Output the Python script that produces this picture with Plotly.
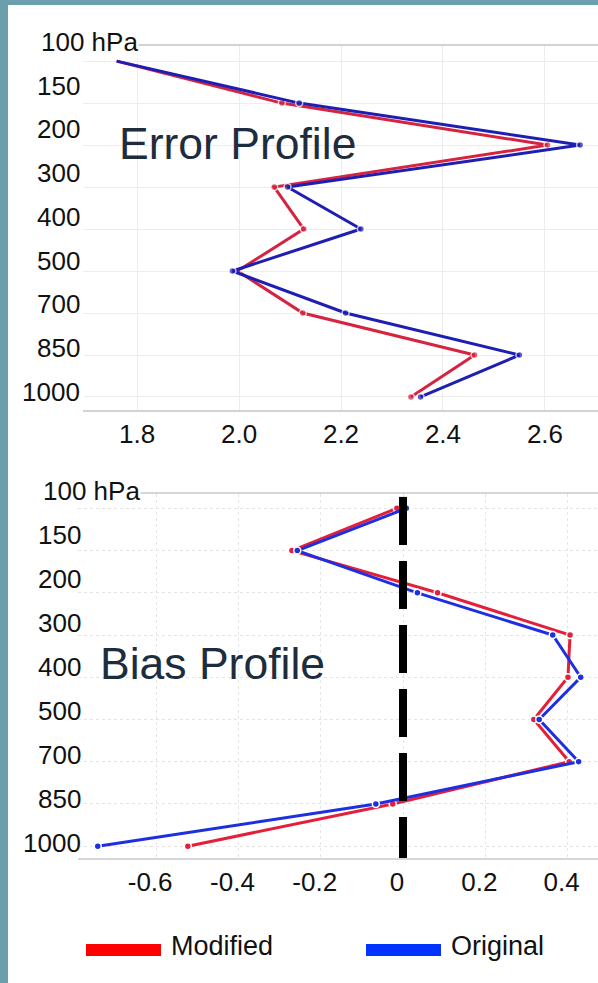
import plotly.graph_objects as go

# Pressure levels (hPa), top of the profile first
levels = ["100", "150", "200", "300", "400", "500", "700", "850", "1000"]
level_labels = ["100 hPa", "150", "200", "300", "400", "500", "700", "850", "1000"]

# Error profile values
error_modified = [1.76, 2.084, 2.605, 2.069, 2.127, 1.997, 2.125, 2.462, 2.337]
error_original = [1.76, 2.118, 2.669, 2.095, 2.239, 1.987, 2.209, 2.550, 2.356]

# Bias profile values
bias_modified = [-0.015, -0.270, 0.084, 0.406, 0.401, 0.318, 0.404, -0.025, -0.523]
bias_original = [0.008, -0.257, 0.035, 0.364, 0.432, 0.331, 0.427, -0.066, -0.742]

# Axis ticks
error_ticks = [1.8, 2.0, 2.2, 2.4, 2.6]
error_ticktext = ["1.8", "2.0", "2.2", "2.4", "2.6"]
bias_ticks = [-0.6, -0.4, -0.2, 0.0, 0.2, 0.4]
bias_ticktext = ["-0.6", "-0.4", "-0.2", "0", "0.2", "0.4"]

series_names = ["Modified", "Original"]

W, H = 598, 983
FONT = "Liberation Sans, Arial, sans-serif"
TITLE_COLOR = "#1e2d3d"

RED_TOP, BLUE_TOP = "#d6233f", "#1e1eb4"
RED_BOT, BLUE_BOT = "#e41f3a", "#1d2fe0"


def px_x(p):
    return p / W


def px_y(p):
    return 1 - p / H


fig = go.Figure()

# hide the marker of the topmost level on the error chart
err_marker_sizes = [0] + [7] * (len(levels) - 1)

for name, vals, col in [
    (series_names[0], error_modified, RED_TOP),
    (series_names[1], error_original, BLUE_TOP),
]:
    fig.add_trace(go.Scatter(
        x=vals, y=levels, mode="lines+markers", name=name,
        line=dict(color=col, width=3),
        marker=dict(color=col, size=err_marker_sizes, line=dict(color="white", width=1.5)),
        xaxis="x", yaxis="y", showlegend=False, cliponaxis=False,
    ))

for name, vals, col in [
    (series_names[0], bias_modified, RED_BOT),
    (series_names[1], bias_original, BLUE_BOT),
]:
    fig.add_trace(go.Scatter(
        x=vals, y=levels, mode="lines+markers", name=name,
        line=dict(color=col, width=3),
        marker=dict(color=col, size=7, line=dict(color="white", width=1.5)),
        xaxis="x2", yaxis="y2", showlegend=False, cliponaxis=False,
    ))

tickfont = dict(family=FONT, size=26, color="#111111")

fig.update_layout(
    width=W, height=H, autosize=False,
    margin=dict(l=0, r=0, t=0, b=0),
    paper_bgcolor="white", plot_bgcolor="white",
    xaxis=dict(
        domain=[px_x(83), 1], anchor="y", range=[1.694, 2.704],
        tickvals=error_ticks, ticktext=error_ticktext, tickfont=tickfont,
        showgrid=True, gridcolor="#ececec", gridwidth=1,
        showline=True, mirror=True, linecolor="#d2d2d2", linewidth=2,
        zeroline=False, ticks="", ticklabelstandoff=0,
    ),
    yaxis=dict(
        domain=[px_y(410), px_y(46)], anchor="x", type="category",
        categoryarray=levels, range=[8.31, -0.36],
        showticklabels=False, showgrid=True, gridcolor="#ededed", gridwidth=1,
        zeroline=False, ticks="",
    ),
    xaxis2=dict(
        domain=[px_x(78), 1], anchor="y2", range=[-0.790, 0.474],
        tickvals=bias_ticks, ticktext=bias_ticktext, tickfont=tickfont,
        showgrid=True, gridcolor="#e6e6e6", gridwidth=1, griddash="dot",
        showline=True, mirror=True, linecolor="#d6d6d6", linewidth=2,
        zeroline=False, ticks="", ticklabelstandoff=0, ticklabelshift=-6,
    ),
    yaxis2=dict(
        domain=[px_y(858), px_y(494)], anchor="x2", type="category",
        categoryarray=levels, range=[8.28, -0.34],
        showticklabels=False, showgrid=True, gridcolor="#e4e4e4", gridwidth=1,
        griddash="dot", zeroline=False, ticks="",
    ),
)

annotations = []

# pressure-level labels for both charts, evenly spaced beside the grid
# (first_px, step_px, right edge, left edge of the "hPa" label)
for first_px, step_px, right_px, left_px in [
    (42, 43.75, 82, 40),
    (490.5, 44.0, 83, 42),
]:
    for i, lab in enumerate(level_labels):
        ypos = px_y(first_px + step_px * i)
        if i == 0:
            annotations.append(dict(
                text=lab, xref="paper", yref="paper", x=px_x(left_px), y=ypos,
                xanchor="left", yanchor="middle", showarrow=False,
                font=dict(family=FONT, size=26, color="#111111"),
                bgcolor="white", borderpad=0,
            ))
        else:
            annotations.append(dict(
                text=lab, xref="paper", yref="paper", x=px_x(right_px), y=ypos,
                xanchor="right", yanchor="middle", showarrow=False,
                font=dict(family=FONT, size=26, color="#111111"),
            ))

# chart titles inside the plot areas
annotations.append(dict(
    text="Error Profile", xref="paper", yref="paper", x=px_x(117), y=px_y(143),
    xanchor="left", yanchor="middle", showarrow=False,
    font=dict(family=FONT, size=44.5, color=TITLE_COLOR),
))
annotations.append(dict(
    text="Bias Profile", xref="paper", yref="paper", x=px_x(98), y=px_y(663),
    xanchor="left", yanchor="middle", showarrow=False,
    font=dict(family=FONT, size=44.5, color=TITLE_COLOR),
))

# legend entries
legend_items = [(series_names[0], "#ff0000", 86), (series_names[1], "#0033ff", 366)]
shapes = []
for name, col, x0 in legend_items:
    shapes.append(dict(
        type="rect", xref="paper", yref="paper",
        x0=px_x(x0), x1=px_x(x0 + 75), y0=px_y(956), y1=px_y(944),
        fillcolor=col, line=dict(width=0), layer="above",
    ))
    annotations.append(dict(
        text=name, xref="paper", yref="paper", x=px_x(x0 + 83), y=px_y(946),
        xanchor="left", yanchor="middle", showarrow=False,
        font=dict(family=FONT, size=27, color="#111111"),
    ))

# zero reference on the bias chart
shapes.append(dict(
    type="line", xref="x2", yref="y2 domain", x0=0, x1=0, y0=0.992, y1=0,
    line=dict(color="black", width=8, dash="48px,16px"), layer="above",
))

# frame strips along the left and top edges
shapes.append(dict(
    type="rect", xref="paper", yref="paper", x0=0, x1=px_x(8), y0=0, y1=1,
    fillcolor="#6a9fab", line=dict(width=0), layer="above",
))
shapes.append(dict(
    type="rect", xref="paper", yref="paper", x0=0, x1=1, y0=px_y(5), y1=1,
    fillcolor="#6a9fab", line=dict(width=0), layer="above",
))

fig.update_layout(annotations=annotations, shapes=shapes)

fig.write_html("out.html")
